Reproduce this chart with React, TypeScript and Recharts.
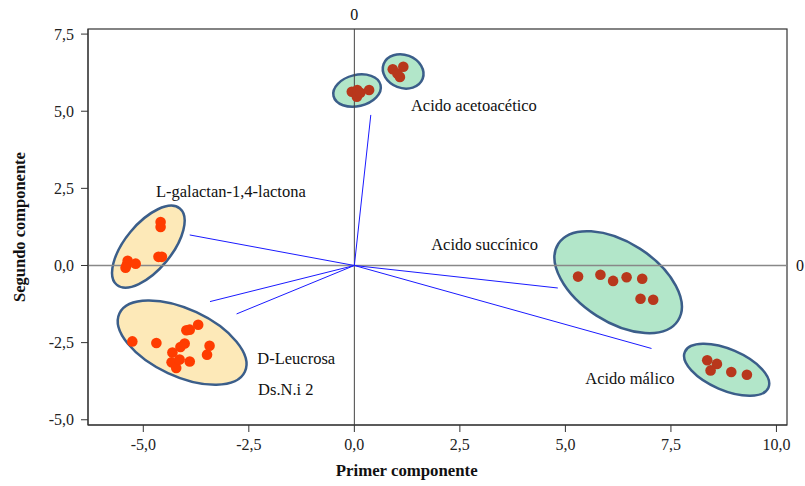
import {
  ReferenceLine,
  Scatter,
  ScatterChart,
  XAxis,
  YAxis,
  usePlotArea,
} from "recharts";

const X_DOMAIN: [number, number] = [-6.31, 10.25];
const Y_DOMAIN: [number, number] = [-5.17, 7.665];
const xTicks = [-5, -2.5, 0, 2.5, 5, 7.5, 10];
const yTicks = [-5, -2.5, 0, 2.5, 5, 7.5];

// scores (muestras) por grupo
const acetoLeft = [
  { x: -0.06, y: 5.63 },
  { x: 0.07, y: 5.69 },
  { x: 0.06, y: 5.47 },
  { x: 0.14, y: 5.6 },
  { x: 0.35, y: 5.69 },
];
const acetoRight = [
  { x: 0.91, y: 6.36 },
  { x: 1.16, y: 6.44 },
  { x: 1.08, y: 6.11 },
  { x: 1.02, y: 6.22 },
];
const succinic = [
  { x: 5.3, y: -0.36 },
  { x: 5.83, y: -0.3 },
  { x: 6.13, y: -0.5 },
  { x: 6.45, y: -0.38 },
  { x: 6.82, y: -0.43 },
  { x: 6.78, y: -1.08 },
  { x: 7.08, y: -1.11 },
];
const malic = [
  { x: 8.36, y: -3.07 },
  { x: 8.59, y: -3.19 },
  { x: 8.44, y: -3.4 },
  { x: 8.93, y: -3.45 },
  { x: 9.3, y: -3.54 },
];
const galactan = [
  { x: -4.59, y: 1.41 },
  { x: -4.59, y: 1.25 },
  { x: -4.64, y: 0.28 },
  { x: -4.56, y: 0.28 },
  { x: -5.37, y: 0.15 },
  { x: -5.39, y: 0.02 },
  { x: -5.18, y: 0.06 },
  { x: -5.42, y: -0.07 },
];
const leucrosa = [
  { x: -5.26, y: -2.46 },
  { x: -4.69, y: -2.51 },
  { x: -4.31, y: -2.82 },
  { x: -4.12, y: -2.64 },
  { x: -4.02, y: -2.53 },
  { x: -3.98, y: -2.1 },
  { x: -3.9, y: -2.08 },
  { x: -3.7, y: -1.92 },
  { x: -3.43, y: -2.6 },
  { x: -3.49, y: -2.89 },
  { x: -4.33, y: -3.14 },
  { x: -4.22, y: -3.32 },
  { x: -4.14, y: -3.05 },
  { x: -3.9, y: -3.11 },
];

// vectores de carga (desde el origen)
const loadings = [
  { x: 0.39, y: 4.88 },
  { x: -3.9, y: 0.99 },
  { x: -3.42, y: -1.17 },
  { x: -2.79, y: -1.57 },
  { x: 4.82, y: -0.73 },
  { x: 7.04, y: -2.69 },
];

const loadingLabels = [
  { text: "Acido acetoacético", x: 1.34, y: 5.17 },
  { text: "L-galactan-1,4-lactona", x: -4.7, y: 2.39 },
  { text: "Acido succínico", x: 1.82, y: 0.67 },
  { text: "D-Leucrosa", x: -2.3, y: -3.02 },
  { text: "Ds.N.i 2", x: -2.28, y: -4.03 },
  { text: "Acido málico", x: 5.47, y: -3.67 },
];

// elipses de grupo: centro y dos semiejes conjugados (unidades de datos)
const greenEllipses = [
  { cx: 0.064, cy: 5.67, ux: 0.557, uy: 0.181, vx: -0.086, vy: 0.491 },
  { cx: 1.156, cy: 6.29, ux: 0.462, uy: -0.239, vx: 0.14, vy: 0.502 },
  { cx: 6.25, cy: -0.54, ux: 1.417, uy: -1.245, vx: 0.513, vy: 1.086 },
  { cx: 8.82, cy: -3.38, ux: 0.99, uy: -0.579, vx: 0.192, vy: 0.61 },
];
const yellowEllipses = [
  { cx: -4.88, cy: 0.61, ux: 0.746, uy: 1.238, vx: -0.426, vy: 0.477 },
  { cx: -4.08, cy: -2.5, ux: 1.486, uy: -0.946, vx: 0.337, vy: 0.985 },
];

const FONT = "'Liberation Serif', 'DejaVu Serif', serif";
const fmt = (v: number) => v.toFixed(1).replace(".", ",");

function useScales() {
  const area = usePlotArea();
  if (!area) return null;
  const kx = area.width / (X_DOMAIN[1] - X_DOMAIN[0]);
  const ky = area.height / (Y_DOMAIN[1] - Y_DOMAIN[0]);
  return {
    area,
    kx,
    ky,
    sx: (v: number) => area.x + (v - X_DOMAIN[0]) * kx,
    sy: (v: number) => area.y + (Y_DOMAIN[1] - v) * ky,
  };
}

type Ell = { cx: number; cy: number; ux: number; uy: number; vx: number; vy: number };

function Regions({ items, fill }: { items: Ell[]; fill: string }) {
  const s = useScales();
  if (!s) return null;
  return (
    <g>
      {items.map((e, i) => (
        <ellipse
          key={i}
          cx={0}
          cy={0}
          rx={1}
          ry={1}
          transform={`matrix(${e.ux * s.kx} ${-e.uy * s.ky} ${e.vx * s.kx} ${-e.vy * s.ky} ${s.sx(e.cx)} ${s.sy(e.cy)})`}
          fill={fill}
          stroke="#3b5e8a"
          strokeWidth={2.5}
          vectorEffect="non-scaling-stroke"
        />
      ))}
    </g>
  );
}

function Decor() {
  const s = useScales();
  if (!s) return null;
  const { area } = s;
  return (
    <g fontFamily={FONT}>
      <rect
        x={area.x}
        y={area.y}
        width={area.width}
        height={area.height}
        fill="none"
        stroke="#333"
        strokeWidth={1.2}
      />
      {loadingLabels.map((l) => (
        <text
          key={l.text}
          x={s.sx(l.x)}
          y={s.sy(l.y)}
          dominantBaseline="central"
          fontSize={16.5}
          fill="#111"
        >
          {l.text}
        </text>
      ))}
      <text
        x={area.x + area.width * 0.456}
        y={area.y + area.height + 51}
        textAnchor="middle"
        fontSize={16.8}
        fontWeight="bold"
        fill="#111"
      >
        Primer componente
      </text>
      <text
        transform={`translate(25, ${area.y + area.height / 2}) rotate(-90)`}
        textAnchor="middle"
        fontSize={16.5}
        fontWeight="bold"
        fill="#111"
      >
        Segundo componente
      </text>
    </g>
  );
}

const dot = (color: string) => (p: any) =>
  <circle cx={p.cx} cy={p.cy} r={5.3} fill={color} />;

const BROWN = "#b8371c";
const ORANGE = "#ff3c00";
const tickStyle = { fill: "#222", fontSize: 16, fontFamily: FONT };

export default function App() {
  return (
    <div style={{ position: "absolute", left: 0, top: 0, fontFamily: FONT }}>
      <ScatterChart
        width={805}
        height={486}
        margin={{ top: 29, right: 18, bottom: 0, left: 0 }}
      >
        <Regions items={greenEllipses} fill="#b2e6c9" />
        <Regions items={yellowEllipses} fill="#fde9b8" />
        <XAxis
          type="number"
          dataKey="x"
          domain={X_DOMAIN}
          ticks={xTicks}
          tickFormatter={fmt}
          allowDataOverflow
          height={61}
          tickSize={7}
          tickMargin={7}
          stroke="#333"
          tick={tickStyle}
        />
        <YAxis
          type="number"
          dataKey="y"
          domain={Y_DOMAIN}
          ticks={yTicks}
          tickFormatter={fmt}
          allowDataOverflow
          width={88}
          tickSize={7}
          tickMargin={7}
          stroke="#333"
          tick={tickStyle}
        />
        <ReferenceLine
          x={0}
          stroke="#444"
          strokeWidth={1}
          label={{ value: "0", position: "top", offset: 9, fontSize: 16, fill: "#111", fontFamily: FONT }}
        />
        <ReferenceLine
          y={0}
          stroke="#888"
          strokeWidth={1.3}
          label={{ value: "0", position: "right", offset: 9, fontSize: 16, fill: "#111", fontFamily: FONT }}
        />
        {loadings.map((l, i) => (
          <ReferenceLine
            key={i}
            segment={[{ x: 0, y: 0 }, { x: l.x, y: l.y }]}
            stroke="#1a1aff"
            strokeWidth={1}
          />
        ))}
        <Scatter data={acetoLeft} shape={dot(BROWN)} isAnimationActive={false} />
        <Scatter data={acetoRight} shape={dot(BROWN)} isAnimationActive={false} />
        <Scatter data={succinic} shape={dot(BROWN)} isAnimationActive={false} />
        <Scatter data={malic} shape={dot(BROWN)} isAnimationActive={false} />
        <Scatter data={galactan} shape={dot(ORANGE)} isAnimationActive={false} />
        <Scatter data={leucrosa} shape={dot(ORANGE)} isAnimationActive={false} />
        <Decor />
      </ScatterChart>
    </div>
  );
}
